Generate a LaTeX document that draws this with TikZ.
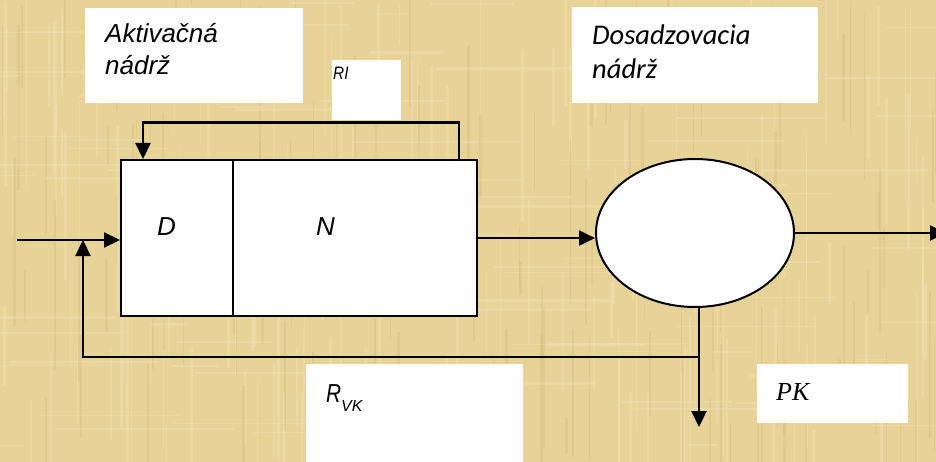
\documentclass[tikz,border=0pt]{standalone}
\usepackage{fontspec}
\setmainfont{Liberation Sans}
\newfontfamily\calibrifont{Carlito}
\newfontfamily\timesfont{Liberation Serif}
\usetikzlibrary{arrows.meta,shapes.geometric}

\definecolor{papyrus}{RGB}{231,210,152}
\definecolor{papyruslight}{RGB}{244,229,188}
\definecolor{papyrusdark}{RGB}{204,178,112}

\tikzset{
  labelbox/.style={fill=white, draw=none, anchor=north west, inner sep=0pt, outer sep=0pt},
  wire/.style={line width=2.2pt, line cap=rect},
  flow/.style={wire, -{Triangle[length=16pt,width=15pt]}},
  lbl/.style={anchor=base west, inner sep=0pt, font=\itshape\fontsize{26}{26}\selectfont},
  clbl/.style={anchor=base west, inner sep=0pt, font=\calibrifont\itshape\fontsize{28.5}{28.5}\selectfont},
  tlbl/.style={anchor=base west, inner sep=0pt, font=\timesfont\itshape\fontsize{26}{26}\selectfont},
}

\begin{document}
\begin{tikzpicture}[x=1pt,y=-1pt]
\useasboundingbox (0,0) rectangle (936,462);

% papyrus sheet with faint fibres
\fill[papyrus] (0,0) rectangle (936,462);
\pgfmathsetseed{42}
\foreach \k in {1,...,160}{
  \pgfmathsetmacro\fx{random(0,936)}
  \pgfmathsetmacro\fy{random(-40,430)}
  \pgfmathsetmacro\fw{0.8+2.5*rnd}
  \pgfmathsetmacro\fh{40+160*rnd}
  \fill[papyruslight, opacity=0.35] (\fx,\fy) rectangle ++(\fw,\fh);
}
\foreach \k in {1,...,130}{
  \pgfmathsetmacro\fx{random(0,936)}
  \pgfmathsetmacro\fy{random(-40,430)}
  \pgfmathsetmacro\fw{0.8+2*rnd}
  \pgfmathsetmacro\fh{30+140*rnd}
  \fill[papyrusdark, opacity=0.28] (\fx,\fy) rectangle ++(\fw,\fh);
}
\foreach \k in {1,...,100}{
  \pgfmathsetmacro\fx{random(-60,900)}
  \pgfmathsetmacro\fy{random(0,462)}
  \pgfmathsetmacro\fw{30+150*rnd}
  \pgfmathsetmacro\fh{0.8+2*rnd}
  \fill[papyruslight, opacity=0.32] (\fx,\fy) rectangle ++(\fw,\fh);
}

% caption boxes
\node[labelbox, minimum width=218pt, minimum height=95pt] (actbox) at (85,8) {};
\node[lbl] (act1) at (105,43) {Aktivačná};
\node[lbl] (act2) at (105,75) {nádrž};

\node[labelbox, minimum width=246pt, minimum height=96pt] (clarbox) at (572,7) {};
\node[clbl] (clar1) at (592,45) {Dosadzovacia};
\node[clbl] (clar2) at (592,79) {nádrž};

\node[labelbox, minimum width=69pt, minimum height=60pt] (ribox) at (332,60) {};
\node[lbl, font=\itshape\fontsize{18}{18}\selectfont] (ritxt) at (333,80) {\scalebox{0.85}[1]{RI}};

\node[labelbox, minimum width=217pt, minimum height=110pt] (rvkbox) at (306,364) {};
\node[lbl] (rvktxt) at (326,402) {\scalebox{0.8}[1]{R}\raisebox{-9pt}{\fontsize{16}{16}\selectfont VK}};

\node[labelbox, minimum width=151pt, minimum height=59pt] (pkbox) at (757,364) {};
\node[tlbl] (pktxt) at (776,400) {PK};

% activation tank with its two zones
\node[draw, fill=white, line width=2.1pt, anchor=north west, inner sep=0pt,
      minimum width=356pt, minimum height=156pt] (tank) at (120,159) {};
\coordinate (div) at (233,0);
\draw[line width=1.5pt] (tank.north -| div) -- (tank.south -| div);
\node[lbl] (dtxt) at (157,236) {D};
\node[lbl] (ntxt) at (316,236) {N};

% clarifier
\node[ellipse, draw, fill=white, line width=2pt, inner sep=0pt,
      minimum width=198pt, minimum height=148pt] (clar) at (695,233) {};

% internal recirculation RI
\coordinate (rir) at (459,122.5);
\coordinate (ril) at (143,122.5);
\draw[flow] (tank.north -| rir) -- (rir) -- (ril) -- (tank.north -| ril);

% influent and return sludge
\coordinate (inlet) at (18,240);
\draw[flow] (inlet) -- (tank.west |- inlet);
\coordinate (join) at (83,240);
\coordinate (split) at (699,357);
\draw[flow] (split) -| (join);

% tank to clarifier, effluent, excess sludge
\draw[flow] (tank.east) -- (tank.east -| clar.west);
\coordinate (outlet) at (946,233);
\draw[flow] (clar.east) -- (outlet);
\coordinate (pkout) at (699,427);
\draw[flow] (clar.south -| split) -- (pkout);
\end{tikzpicture}
\end{document}
